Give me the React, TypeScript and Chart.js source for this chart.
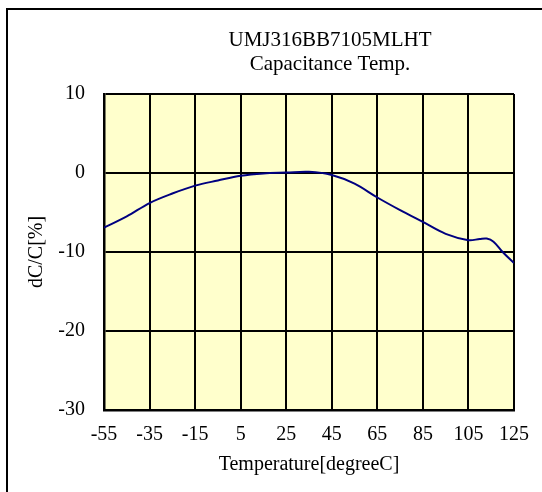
import React, { useEffect, useRef } from "react";
import { Chart, registerables } from "chart.js";

Chart.register(...registerables);

const TITLE_LINES = ["UMJ316BB7105MLHT", "Capacitance Temp."];
const X_TITLE = "Temperature[degreeC]";
const Y_TITLE = "dC/C[%]";
const X_TICKS = [-55, -35, -15, 5, 25, 45, 65, 85, 105, 125];
const Y_TICKS = [-30, -20, -10, 0, 10];
const TEMPS = [-55, -45, -35, -25, -15, -5, 5, 15, 25, 35, 45, 55, 65, 75, 85, 95, 105, 110, 113, 116, 120, 125];
const DCC = [-6.9, -5.5, -3.8, -2.6, -1.6, -0.95, -0.35, -0.05, 0.05, 0.15, -0.25, -1.35, -3.1, -4.7, -6.2, -7.7, -8.5, -8.35, -8.3, -8.7, -10.0, -11.4];

const FONT = "'Liberation Serif', 'Times New Roman', serif";

const framePlugin = {
  id: "frame",
  beforeDraw(chart: any) {
    const { ctx, chartArea } = chart;
    ctx.save();
    ctx.fillStyle = "#ffffff";
    ctx.fillRect(0, 0, chart.width, chart.height);
    ctx.strokeStyle = "#000000";
    ctx.lineWidth = 2;
    ctx.beginPath();
    ctx.moveTo(7, chart.height + 5);
    ctx.lineTo(7, 9);
    ctx.lineTo(chart.width + 5, 9);
    ctx.stroke();
    ctx.fillStyle = "#ffffcc";
    ctx.fillRect(chartArea.left, chartArea.top, chartArea.right - chartArea.left, chartArea.bottom - chartArea.top);
    ctx.restore();
  },
  afterDraw(chart: any) {
    const { ctx } = chart;
    ctx.save();
    ctx.fillStyle = "#000000";
    ctx.font = `21px ${FONT}`;
    ctx.textAlign = "center";
    ctx.textBaseline = "middle";
    ctx.fillText(TITLE_LINES[0], 330, 40);
    ctx.fillText(TITLE_LINES[1], 330, 64);
    ctx.restore();
  },
};

export default function App() {
  const ref = useRef<HTMLCanvasElement | null>(null);
  useEffect(() => {
    if (!ref.current) return;
    const chart = new Chart(ref.current, {
      type: "line",
      data: {
        datasets: [
          {
            data: TEMPS.map((t, i) => ({ x: t, y: DCC[i] })),
            borderColor: "#000080",
            borderWidth: 2,
            pointRadius: 0,
            fill: false,
            tension: 0.35,
          },
        ],
      },
      options: {
        animation: false,
        responsive: false,
        layout: { padding: { left: 8, right: 28, top: 94, bottom: 0 } },
        plugins: { legend: { display: false }, title: { display: false }, tooltip: { enabled: false } },
        scales: {
          x: {
            type: "linear",
            min: -55,
            max: 125,
            afterBuildTicks: (s: any) => {
              s.ticks = X_TICKS.map((v) => ({ value: v }));
            },
            afterFit: (s: any) => {
              s.height = 82;
            },
            grid: { color: "#000000", lineWidth: 2, drawTicks: false },
            border: { display: true, color: "#000000", width: 2.5 },
            ticks: { color: "#000000", font: { family: FONT, size: 20 }, padding: 13, maxRotation: 0, autoSkip: false },
            title: { display: true, text: X_TITLE, color: "#000000", font: { family: FONT, size: 20 }, padding: { top: 0, bottom: 15 } },
          },
          y: {
            type: "linear",
            min: -30,
            max: 10,
            afterBuildTicks: (s: any) => {
              s.ticks = Y_TICKS.map((v) => ({ value: v }));
            },
            afterFit: (s: any) => {
              s.width = 96;
            },
            grid: { color: "#000000", lineWidth: 2, drawTicks: false },
            border: { display: true, color: "#000000", width: 2.5 },
            ticks: { color: "#000000", font: { family: FONT, size: 20 }, padding: 19 },
            title: { display: true, text: Y_TITLE, color: "#000000", font: { family: FONT, size: 20 }, padding: { top: 17, bottom: 0 } },
          },
        },
      },
      plugins: [framePlugin],
    });
    return () => chart.destroy();
  }, []);
  return (
    <div style={{ position: "fixed", left: 0, top: 0, width: 542, height: 492 }}>
      <canvas ref={ref} width={542} height={492} style={{ display: "block" }} />
    </div>
  );
}
